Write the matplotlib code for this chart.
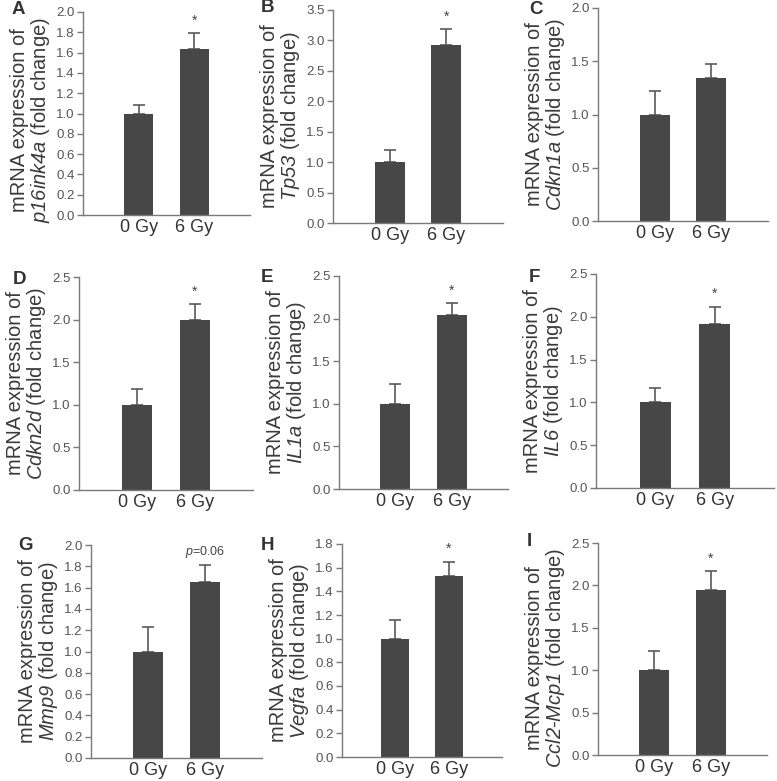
import numpy as np
import matplotlib.pyplot as plt

plt.rcParams['font.family'] = ['Liberation Sans', 'DejaVu Sans']
plt.rcParams['mathtext.fontset'] = 'custom'
# gene names are all-italic, digits included
plt.rcParams['mathtext.it'] = 'Liberation Sans:italic'
plt.rcParams['mathtext.rm'] = 'Liberation Sans:italic'

# data
groups = ["0 Gy", "6 Gy"]
letters = ["A", "B", "C", "D", "E", "F", "G", "H", "I"]
genes = [r"$\mathit{p16ink4a}$", r"$\mathit{Tp53}$", r"$\mathit{Cdkn1a}$",
         r"$\mathit{Cdkn2d}$", r"$\mathit{IL1a}$", r"$\mathit{IL6}$",
         r"$\mathit{Mmp9}$", r"$\mathit{Vegfa}$", r"$\mathit{Ccl2}$-$\mathit{Mcp1}$"]
mean_0gy = [1.0, 1.0, 1.0, 1.0, 1.0, 1.0, 1.0, 1.0, 1.0]
mean_6gy = [1.64, 2.92, 1.34, 1.99, 2.04, 1.92, 1.65, 1.53, 1.95]
err_0gy = [0.08, 0.20, 0.22, 0.19, 0.23, 0.17, 0.23, 0.16, 0.23]
err_6gy = [0.15, 0.26, 0.13, 0.19, 0.14, 0.20, 0.16, 0.12, 0.22]
ymax = [2.0, 3.5, 2.0, 2.5, 2.5, 2.5, 2.0, 1.8, 2.5]
ystep = [0.2, 0.5, 0.5, 0.5, 0.5, 0.5, 0.2, 0.2, 0.5]
marks = ["*", "*", "", "*", "*", "*", r"$\it{p}$=0.06", "*", "*"]

# axes boxes in pixels: left, right, top, bottom
boxes = [(83, 250, 12, 215), (333, 503, 10, 223), (598, 768, 8, 221),
         (79, 253, 277, 490), (339, 508, 276, 489), (596, 774, 274, 488),
         (91, 262, 545, 758), (342, 502, 544, 757), (598, 767, 543, 755)]
label_y = [0.47, 0.5, 0.5, 0.5, 0.5, 0.5, 0.5, 0.5, 0.455]
letter_pos = [(12, 9), (261, 8), (529, 10), (13, 279), (261, 278), (529, 278),
              (18, 545), (261, 545), (527, 541)]

W, H = 777, 781
fig = plt.figure(figsize=(W / 100, H / 100), dpi=100)

bar_col = "#474747"
axis_col = "#7a7a7a"
text_col = "#555555"

for i in range(9):
    l, r, t, b = boxes[i]
    ax = fig.add_axes([l / W, 1 - b / H, (r - l) / W, (b - t) / H])
    x = np.arange(2)
    vals = [mean_0gy[i], mean_6gy[i]]
    errs = [err_0gy[i], err_6gy[i]]
    ax.bar(x, vals, width=0.53, color=bar_col, zorder=2)
    ax.errorbar(x, vals, yerr=[[0, 0], errs], fmt="none", ecolor="#5a5a5a",
                elinewidth=1.2, capsize=4, capthick=1.2, zorder=1)
    ax.set_xlim(-1, 2)
    ax.set_ylim(0, ymax[i])
    ax.set_yticks(np.arange(0, ymax[i] + 1e-6, ystep[i]))
    ax.yaxis.set_major_formatter(plt.FormatStrFormatter("%.1f"))
    ax.set_xticks(x)
    ax.set_xticklabels(groups, fontsize=13, color="#333333")
    ax.tick_params(axis="x", length=0, pad=3)
    ax.tick_params(axis="y", length=4, width=1, color=axis_col, labelsize=9.5,
                   labelcolor=text_col, pad=2)
    for s in ["top", "right"]:
        ax.spines[s].set_visible(False)
    for s in ["left", "bottom"]:
        ax.spines[s].set_color(axis_col)
        ax.spines[s].set_linewidth(1)
    ax.set_ylabel("mRNA expression of\n" + genes[i] + " (fold change)",
                  fontsize=14.5, color="#3a3a3a", labelpad=3, linespacing=1.0)
    ax.yaxis.label.set_y(label_y[i])
    if marks[i]:
        fs = 10 if marks[i] == "*" else 9
        ax.annotate(marks[i], (1, vals[1] + errs[1]), xytext=(0, 4),
                    textcoords="offset points", ha="center", va="bottom",
                    fontsize=fs, color="#444444", clip_on=False)
    lx, ly = letter_pos[i]
    fig.text(lx / W, 1 - ly / H, letters[i], fontsize=13.5, fontweight="bold",
             color="#333333", va="center", ha="left")

fig.savefig("out.png", dpi=100, facecolor="white")
